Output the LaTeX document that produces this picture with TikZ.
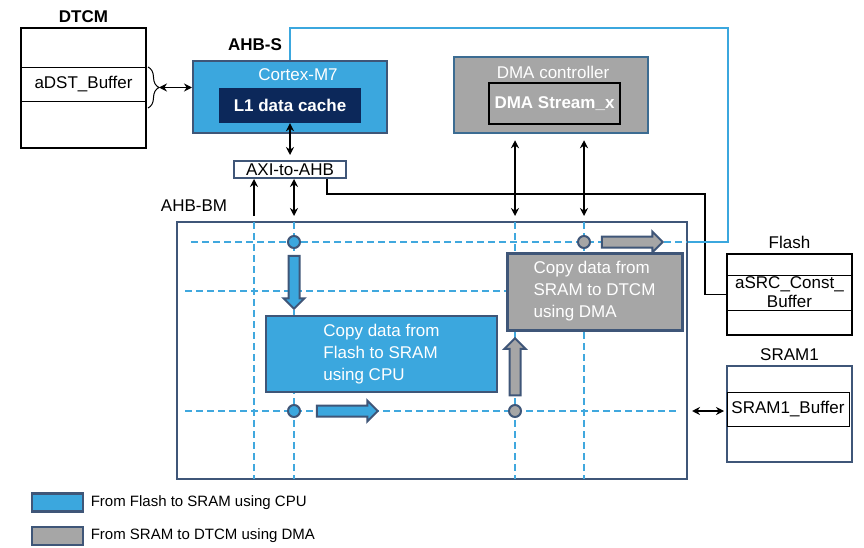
\documentclass[tikz,border=0pt]{standalone}
\usepackage{fontspec}
\setmainfont{Liberation Sans}
\usetikzlibrary{shapes.geometric, shapes.arrows, arrows, arrows.meta, positioning, decorations.pathreplacing}
\definecolor{cpublue}{RGB}{59,167,222}
\definecolor{slate}{RGB}{63,86,120}
\definecolor{navy}{RGB}{12,40,90}
\definecolor{dmagray}{RGB}{166,166,166}
\definecolor{dashblue}{RGB}{64,168,222}
\definecolor{dmaedge}{RGB}{60,108,146}
\tikzstyle{mem} = [rectangle, draw=black, line width=2.5pt, minimum width=125pt]
\tikzstyle{buf} = [rectangle, draw=black, line width=0.8pt, minimum width=125pt, minimum height=34pt, inner sep=0pt]
\tikzstyle{title} = [font=\fontsize{17}{20}\selectfont\bfseries]
\tikzstyle{cpu} = [rectangle, draw=slate, line width=2pt, fill=cpublue]
\tikzstyle{cache} = [rectangle, fill=navy, text=white, font=\fontsize{17}{20}\selectfont\bfseries, minimum width=142pt, minimum height=35pt]
\tikzstyle{dmac} = [rectangle, draw=dmaedge, line width=2.5pt, fill=dmagray]
\tikzstyle{copycpu} = [rectangle, draw=slate, line width=2.5pt, fill=cpublue, text=white, align=left]
\tikzstyle{copydma} = [rectangle, draw=slate, line width=3pt, fill=dmagray, text=white, align=left]
\tikzstyle{bus} = [dashblue, line width=1.4pt, dash pattern=on 7pt off 4pt]
\tikzstyle{dot} = [circle, draw=slate, line width=2pt, minimum size=12pt, inner sep=0pt]
\tikzstyle{fat} = [single arrow, draw=slate, line width=2pt, inner xsep=0pt, inner ysep=4.5pt, single arrow head extend=5pt]
\tikzstyle{swatch} = [rectangle, draw=slate, line width=2.5pt, minimum width=51pt, minimum height=18pt]
\tikzstyle{arrow} = [line width=1.6pt,<->,>={Stealth[length=8pt,width=8pt]}]
\tikzstyle{uparrow} = [line width=1.6pt,->,>={Stealth[length=8pt,width=8pt]}]
\tikzstyle{wire} = [line width=1.2pt]
\tikzstyle{bluewire} = [cpublue, line width=1.2pt]
\begin{document}
\begin{tikzpicture}[x=1pt, y=-1pt, font=\fontsize{17}{22}\selectfont]
		\useasboundingbox (0,0) rectangle (864,548);
		% memories
		\node (dtcm) [mem, minimum height=120pt] at (83.5,88) {};
		\node (dst) [buf] at (83.5,84) {aDST\_Buffer};
		\node (dtcmlbl) [title, above=1pt of dtcm] {DTCM};
		\node (flash) [mem, minimum height=81pt] at (789.5,294.5) {};
		\node (src) [buf, minimum height=35pt, align=center, font=\fontsize{17}{19}\selectfont] at (789.5,292.5) {aSRC\_Const\_\\Buffer};
		\node (flashlbl) [above=1pt of flash] {Flash};
		\node (sram) [mem, draw=slate, line width=2pt, minimum height=96pt] at (789.5,414) {};
		\node (sbuf) [buf, minimum width=122pt] at (788,409) {SRAM1\_Buffer};
		\node (sramlbl) [above=1pt of sram] {SRAM1};
		% masters
		\node (cortex) [cpu, minimum width=194pt, minimum height=72pt] at (290,97) {};
		\node (cortexlbl) [text=white] at (298,75) {Cortex-M7};
		\node (l1) [cache] at (290,105.5) {L1 data cache};
		\node (ahbs) [title] at (255,45) {AHB-S};
		\node (dma) [dmac, minimum width=194pt, minimum height=76pt] at (551,95) {};
		\node (dmalbl) [text=white] at (553,72) {DMA controller};
		\node (stream) [rectangle, draw=black, line width=1.2pt, fill=dmagray, text=white, font=\fontsize{17}{20}\selectfont\bfseries, minimum width=131pt, minimum height=41pt] at (554.5,103.5) {DMA Stream\_x};
		\node (axi) [rectangle, draw=slate, line width=2pt, fill=white, minimum width=112pt, minimum height=17pt, inner sep=0pt] at (290,169.5) {AXI-to-AHB};
		\node (ahbbm) at (194,206) {AHB-BM};
		% bus matrix
		\node (bm) [rectangle, draw=slate, line width=2pt, minimum width=510pt, minimum height=257pt] at (432,350.5) {};
		\foreach \x/\n in {254/v1, 294/v2, 515/v3, 584/v4} {
			\coordinate (\n) at (\x,222);
			\draw [bus] (\n) -- (\x,479);
		}
		\coordinate (h1) at (191,242);
		\coordinate (h2) at (185,291);
		\coordinate (h3) at (185,411);
		\draw [bus] (h1) -- (687,242);
		\draw [bus] (h2) -- (507,291);
		\draw [bus] (h3) -- (678,411);
		\node (copycpu) [copycpu, minimum width=231pt, minimum height=76pt] at (381.5,354) {Copy data from\\Flash to SRAM\\using CPU};
		\node (copydma) [copydma, minimum width=175pt, minimum height=77pt] at (594.5,291.5) {Copy data from\\SRAM to DTCM\\using DMA};
		\node (c1) [dot, fill=cpublue] at (294,242) {};
		\node (c2) [dot, fill=cpublue] at (294,411) {};
		\node (c3) [dot, fill=dmagray] at (515,411) {};
		\node (c4) [dot, fill=dmagray] at (584,242) {};
		\node (cpudown) [fat, fill=cpublue, minimum height=53pt, rotate=-90] at (294,279.5) {};
		\node (cpuright) [fat, fill=cpublue, minimum height=61pt] at (344.5,411) {};
		\node (dmaup) [fat, fill=dmagray, minimum height=57pt, rotate=90] at (515,369.5) {};
		\node (dmaright) [fat, fill=dmagray, minimum height=61pt] at (629.5,242) {};
		% connections
		\draw [decorate, decoration={brace, amplitude=11pt}, line width=1pt] (148,67) -- (148,108);
		\coordinate (brtip) at (159,87.5);
		\draw [arrow] (brtip) -- (brtip -| cortex.west);
		\draw [arrow, shorten >=5pt] (l1.south) -- (l1.south |- axi.north);
		\draw [uparrow] ([yshift=6pt]v1) -- (v1 |- axi.south);
		\draw [arrow, shorten >=6pt] (v2 |- axi.south) -- (v2);
		\draw [arrow, shorten <=6pt, shorten >=6pt] (v3 |- dma.south) -- (v3);
		\draw [arrow, shorten <=6pt, shorten >=6pt] (v4 |- dma.south) -- (v4);
		\draw [arrow, shorten <=4pt, shorten >=2pt] (bm.east |- h3) -- (sram.west |- h3);
		\draw [wire] ([xshift=37pt]axi.south) |- (705,194) |- (flash.west);
		\draw [bluewire] (cortex.north) |- (728,28) |- (bm.east |- h1);
		% legend
		\node (sw1) [swatch, fill=cpublue] at (57.5,502.5) {};
		\node (sw2) [swatch, fill=dmagray] at (57.5,536) {};
		\node (lg1) [right=3pt of sw1, font=\fontsize{15}{18}\selectfont] {From Flash to SRAM using CPU};
		\node (lg2) [right=3pt of sw2, font=\fontsize{15}{18}\selectfont] {From SRAM to DTCM using DMA};
\end{tikzpicture}
\end{document}
